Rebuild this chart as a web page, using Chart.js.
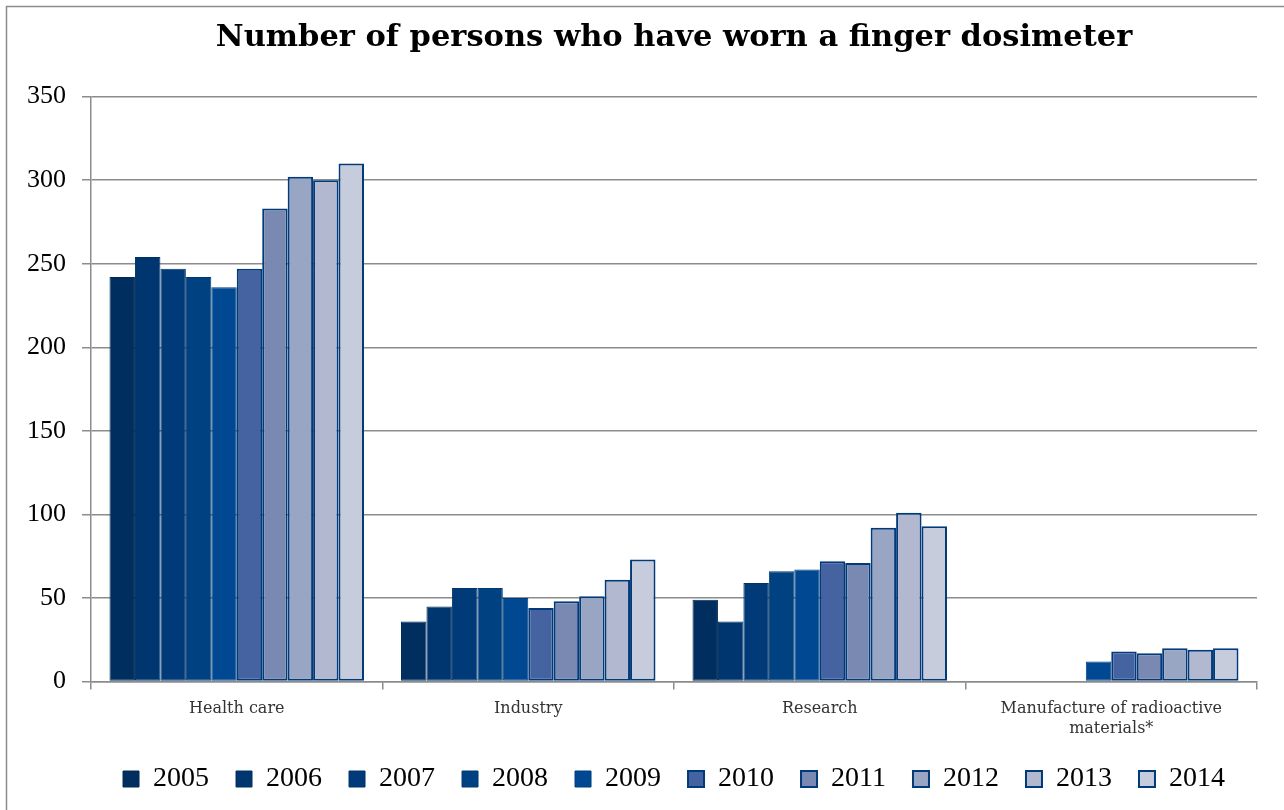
<!DOCTYPE html>
<html>
<head>
<meta charset="utf-8">
<script src="https://cdn.jsdelivr.net/npm/chart.js@4.4.1/dist/chart.umd.min.js"></script>
<style>
  html, body { margin: 0; padding: 0; background: #fff; }
  #wrap { width: 1284px; height: 810px; }
</style>
</head>
<body>
<div id="wrap"><canvas id="myChart" width="1284" height="810"></canvas></div>
<script>
// categories and years
let categories = ["Health care", "Industry", "Research", ["Manufacture of radioactive", "materials*"]];
let years = ["2005","2006","2007","2008","2009","2010","2011","2012","2013","2014"];
let yTicks = [0, 50, 100, 150, 200, 250, 300, 350];

// values per category, one per year
let healthCare  = [242, 254, 247, 242, 236, 247, 283, 302, 300, 310];
let industry    = [36, 45, 56, 56, 50, 44, 48, 51, 61, 73];
let research    = [49, 36, 59, 66, 67, 72, 71, 92, 101, 93];
let manufacture = [null, null, null, null, 12, 18, 17, 20, 19, 20];

let fills   = ['#002f5f','#003670','#003a78','#004182','#004891','#4663a1','#7a89b2','#98a5c3','#b2b8cf','#c6ccdb'];
let borders = ['#002a55','#00305f','#003468','#003a72','#003e7e','#003a7a','#003a7a','#003a7a','#003a7a','#003a7a'];

let rows = [healthCare, industry, research, manufacture];
let datasets = years.map(function (y, i) {
    return {
        label: y,
        data: rows.map(function (r) { return r[i]; }),
        backgroundColor: fills[i],
        borderColor: borders[i],
        borderWidth: i < 5 ? 1 : 2,
        borderSkipped: false,
        categoryPercentage: 0.873,
        barPercentage: 1.0
    };
});

// thin outer frame like the original picture
let framePlugin = {
    id: 'frame',
    beforeDraw: function (chart) {
        let c = chart.ctx;
        c.save();
        c.strokeStyle = '#8c8c8c';
        c.lineWidth = 1.5;
        c.beginPath();
        c.moveTo(6.5, 820);
        c.lineTo(6.5, 6.5);
        c.lineTo(1290, 6.5);
        c.stroke();
        c.restore();
    }
};

let ctx = document.getElementById('myChart').getContext('2d');
let myChart = new Chart(ctx, {
    type: 'bar',
    data: {
        labels: categories,
        datasets: datasets
    },
    plugins: [framePlugin],
    options: {
        responsive: false,
        animation: false,
        layout: { padding: { left: 0, right: 27, top: 0, bottom: 7 } },
        plugins: {
            title: {
                display: true,
                fullSize: false,
                text: 'Number of persons who have worn a finger dosimeter',
                color: '#000',
                font: { family: 'DejaVu Serif', size: 30.5, weight: 'bold' },
                padding: { top: 20, bottom: 40 }
            },
            legend: {
                position: 'bottom',
                fullSize: false,
                labels: {
                    color: '#000',
                    font: { family: 'Liberation Serif', size: 28 },
                    boxWidth: 16,
                    boxHeight: 16,
                    padding: 27
                }
            },
            tooltip: { enabled: false }
        },
        scales: {
            x: {
                afterFit: function (s) { s.height = s.height - 10; },
                grid: {
                    display: true,
                    drawOnChartArea: false,
                    drawTicks: true,
                    tickLength: 8,
                    color: '#8c8c8c',
                    lineWidth: 1.5,
                    offset: true
                },
                border: { display: true, color: '#8c8c8c', width: 1.5 },
                ticks: {
                    color: '#333',
                    font: { family: 'DejaVu Serif', size: 16 },
                    padding: 10,
                    maxRotation: 0
                }
            },
            y: {
                min: 0,
                max: 350,
                afterFit: function (s) { s.width = 91; },
                afterBuildTicks: function (s) {
                    s.ticks = yTicks.map(function (v) { return { value: v }; });
                },
                grid: {
                    color: '#8c8c8c',
                    lineWidth: 1.5,
                    tickLength: 9
                },
                border: { display: true, color: '#8c8c8c', width: 1.5 },
                ticks: {
                    color: '#000',
                    font: { family: 'Liberation Serif', size: 26 },
                    padding: 16
                }
            }
        }
    }
});
</script>
</body>
</html>
